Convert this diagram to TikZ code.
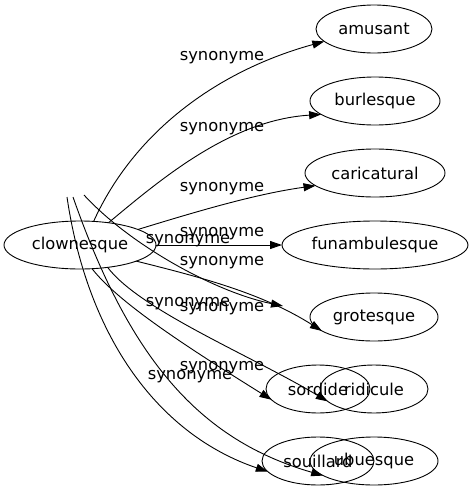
\documentclass[tikz,border=0pt]{standalone}
\usepackage{fontspec}
\setmainfont{DejaVu Sans}
\usetikzlibrary{shapes.geometric,arrows.meta}
\begin{document}
\begin{tikzpicture}[x=1pt,y=-1pt,
  word/.style={draw,ellipse,line width=0.9pt,inner sep=0pt,outer sep=0pt,
    minimum height=48pt,minimum width=#1,font=\fontsize{16.3}{19}\selectfont},
  syn/.style={inner sep=0pt,font=\fontsize{16.3}{19}\selectfont},
  rel/.style={-{Triangle[length=12pt,width=8pt]},line width=0.9pt}
  ]
\useasboundingbox (0,0) rectangle (473,491);
\node[word=152pt] (clownesque) at (80,245){clownesque};
\node[word=116pt] (amusant) at (374,29){amusant};
\node[word=130pt] (burlesque) at (375,101){burlesque};
\node[word=140pt] (caricatural) at (375,173){caricatural};
\node[word=186pt] (funambulesque) at (375,245){funambulesque};
\node[word=128pt] (grotesque) at (374,317){grotesque};
\node[word=104pt] (sordide) at (318,389){sordide};
\node[word=108pt] (ridicule) at (374,389){ridicule};
\node[word=112pt] (souillard) at (318,461){souillard};
\node[word=128pt] (ubuesque) at (374,461){ubuesque};
\coordinate (tail1) at (67,197);
\coordinate (tail2) at (73,197);
\coordinate (tail3) at (84,195);
\coordinate (loose) at (283,306);
\draw[rel] (clownesque.60.5) .. controls (135,130) and (220,70) .. (amusant.194.9);
\draw[rel] (clownesque.38.4) .. controls (160,180) and (230,120) .. (burlesque.194.8);
\draw[rel] (clownesque.15.7) .. controls (195,212) and (255,194) .. (caricatural.192.4);
\draw[rel] (clownesque.east) -- (funambulesque.west);
\draw[rel] (clownesque.-16.3) .. controls (200,277) and (262,293) .. (grotesque.195.1);
\draw[rel] (tail3) .. controls (130,245) and (215,292) .. (loose);
\draw[rel] (clownesque.-63.4) .. controls (120,305) and (200,355) .. (sordide.193.2);
\draw[rel] (clownesque.-39.2) .. controls (140,310) and (250,355) .. (ridicule.195.8);
\draw[rel] (tail1) .. controls (88,340) and (160,435) .. (souillard.192.4);
\draw[rel] (tail2) .. controls (130,360) and (200,440) .. (ubuesque.196.7);
\node[syn] (lab1) at (222,58){synonyme};
\node[syn] (lab2) at (222,129){synonyme};
\node[syn] (lab3) at (222,189){synonyme};
\node[syn] (lab4) at (222,234){synonyme};
\node[syn] (lab5) at (188,241){synonyme};
\node[syn] (lab6) at (222,263){synonyme};
\node[syn] (lab7) at (188,304){synonyme};
\node[syn] (lab8) at (222,309){synonyme};
\node[syn] (lab9) at (222,368){synonyme};
\node[syn] (lab10) at (190,377){synonyme};
\end{tikzpicture}
\end{document}
